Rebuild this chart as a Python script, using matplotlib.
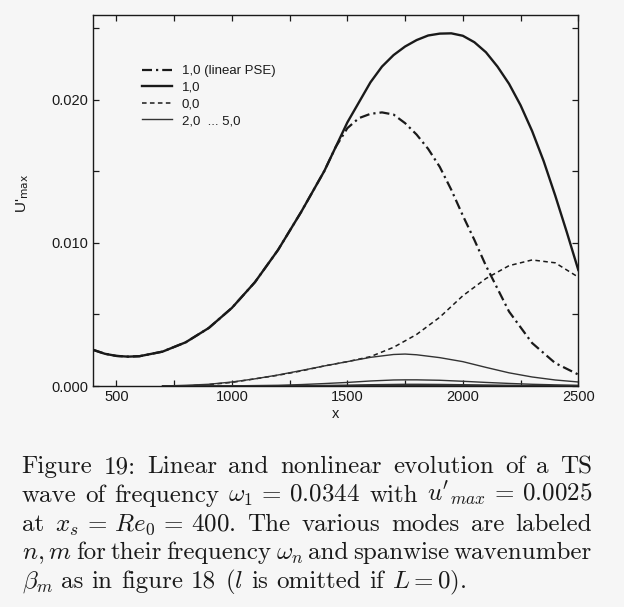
import matplotlib
matplotlib.use("Agg")
import matplotlib.pyplot as plt
from matplotlib.ticker import MultipleLocator, FormatStrFormatter

plt.rcParams["font.family"] = ["Liberation Sans", "DejaVu Sans"]
bg = "#f6f6f6"
ink = "#1a1a1a"
fs = 10.5  # tick / label font size
leg_fs = 9.5
cap_fs = 18  # caption font size

# mode 1,0 (nonlinear PSE)
x_10 = [400, 450, 500, 550, 600, 700, 800, 900, 1000, 1100, 1200, 1300, 1400, 1500,
        1600, 1650, 1700, 1750, 1800, 1850, 1900, 1950, 2000, 2050, 2100, 2150, 2200,
        2250, 2300, 2350, 2400, 2450, 2500]
u_10 = [0.00252, 0.00225, 0.00210, 0.00205, 0.00208, 0.00240, 0.00305, 0.00405, 0.00545,
        0.00725, 0.00950, 0.01215, 0.01500, 0.01840, 0.02120, 0.02230, 0.02310, 0.02370,
        0.02415, 0.02447, 0.02460, 0.02462, 0.02445, 0.02400, 0.02330, 0.02230, 0.02110,
        0.01960, 0.01780, 0.01570, 0.01330, 0.01075, 0.00810]

# mode 1,0 (linear PSE)
x_lin = [400, 450, 500, 550, 600, 700, 800, 900, 1000, 1100, 1200, 1300, 1400, 1450, 1500,
         1550, 1600, 1650, 1700, 1750, 1800, 1850, 1900, 1950, 2000, 2050, 2100, 2200, 2300,
         2400, 2500]
u_lin = [0.00252, 0.00225, 0.00210, 0.00205, 0.00208, 0.00240, 0.00305, 0.00405, 0.00545,
         0.00725, 0.00950, 0.01215, 0.01500, 0.01670, 0.01800, 0.01870, 0.01900, 0.01910,
         0.01895, 0.01835, 0.01755, 0.01655, 0.01530, 0.01370, 0.01190, 0.01020, 0.00840,
         0.00520, 0.00300, 0.00160, 0.00080]

# mode 0,0
x_00 = [800, 900, 1000, 1100, 1200, 1300, 1400, 1500, 1600, 1700, 1800, 1900, 2000, 2100,
        2200, 2300, 2400, 2500]
u_00 = [0.0, 0.0001, 0.00025, 0.0005, 0.00075, 0.00105, 0.0014, 0.0017, 0.00205, 0.0027,
        0.0036, 0.0048, 0.0063, 0.0075, 0.0084, 0.0088, 0.0086, 0.0076]

# modes 2,0 ... 5,0
x_hi = [700, 800, 900, 1000, 1100, 1200, 1300, 1400, 1500, 1600, 1700, 1750, 1800, 1900,
        2000, 2100, 2200, 2300, 2400, 2500]
u_20 = [0.0, 0.00005, 0.00012, 0.00028, 0.0005, 0.00077, 0.00108, 0.0014, 0.0017, 0.002,
        0.0022, 0.00223, 0.00218, 0.00198, 0.0017, 0.0013, 0.00092, 0.00063, 0.00042, 0.00028]
u_30 = [0.0, 0.0, 0.0, 0.00001, 0.00003, 0.00005, 0.0001, 0.00017, 0.00025, 0.00035, 0.00042,
        0.00043, 0.00043, 0.0004, 0.00033, 0.00025, 0.00018, 0.00012, 0.00008, 0.00005]
u_40 = [0.0, 0.0, 0.0, 0.0, 0.0, 0.00001, 0.00002, 0.00004, 0.00006, 0.00009, 0.00011,
        0.00012, 0.00012, 0.00011, 0.00009, 0.00007, 0.00005, 0.00003, 0.00002, 0.00001]
u_50 = [0.0, 0.0, 0.0, 0.0, 0.0, 0.0, 0.0, 0.00001, 0.00002, 0.00003, 0.00004,
        0.00004, 0.00004, 0.00004, 0.00003, 0.00002, 0.00002, 0.00001, 0.00001, 0.0]

caption_lines = [
    ["Figure", "19:", "Linear", "and", "nonlinear", "evolution", "of", "a", "TS"],
    ["wave", "of", "frequency", r"$\omega_1\,=\,0.0344$", "with", r"$u'_{max}\,=\,0.0025$"],
    ["at", r"$x_s\,=\,Re_0\,=\,400$.", "The", "various", "modes", "are", "labeled"],
    [r"$n, m$", "for", "their", "frequency", r"$\omega_n$", "and", "spanwise", "wavenumber"],
    [r"$\beta_m$", "as", "in", "figure", "18", r"($l$", "is", "omitted", "if", r"$L = 0$)."],
]

W, H = 624, 607
fig = plt.figure(figsize=(W / 100, H / 100), dpi=100, facecolor=bg)
ax = fig.add_axes([93.3 / W, 1 - 386 / H, 485 / W, 371 / H], facecolor=bg)

ax.plot(x_lin, u_lin, color=ink, lw=1.6, linestyle=(0, (4.5, 1.8, 1, 1.8)), label="1,0 (linear PSE)")
ax.plot(x_10, u_10, color=ink, lw=1.7, label="1,0")
ax.plot(x_00, u_00, color=ink, lw=1.1, linestyle=(0, (3, 2.2)), label="0,0")
ax.plot(x_hi, u_20, color="#333333", lw=1.0, label="2,0  ... 5,0")
for u in (u_30, u_40, u_50):
    ax.plot(x_hi, u, color="#333333", lw=1.0)

ax.set_xlim(400, 2500)
ax.set_ylim(0, 0.0259)
ax.xaxis.set_major_locator(MultipleLocator(500))
ax.xaxis.set_minor_locator(MultipleLocator(250))
ax.yaxis.set_major_locator(MultipleLocator(0.01))
ax.yaxis.set_minor_locator(MultipleLocator(0.005))
ax.yaxis.set_major_formatter(FormatStrFormatter("%.3f"))
ax.tick_params(which="both", direction="in", top=True, right=True, length=4,
               width=0.9, color=ink, labelsize=fs, labelcolor=ink)
ax.tick_params(axis="x", pad=3)
for sp in ax.spines.values():
    sp.set_color(ink)
    sp.set_linewidth(1.0)

ax.set_xlabel("x", fontsize=fs, color=ink, labelpad=2)
ax.set_ylabel(r"U'$_{\rm max}$", fontsize=fs + 0.5, color=ink, math_fontfamily="dejavusans")
ax.yaxis.set_label_coords((31 - 93.3) / 485, 0.52)

ax.legend(loc="upper left", bbox_to_anchor=((141.7 - 93.3) / 485, (386 - 65) / 371),
          frameon=False, fontsize=leg_fs, handlelength=2.3, handletextpad=0.75,
          labelspacing=0.33, borderpad=0, borderaxespad=0, labelcolor=ink)

# caption, justified between two edges like the typeset original
renderer = fig.canvas.get_renderer()
x_left, x_right = 21.7, 592.0
baselines = [473.3, 502.0, 530.7, 559.4, 588.0]
space = 0.333 * cap_fs * 100 / 72
for i, (words, yb) in enumerate(zip(caption_lines, baselines)):
    texts = [fig.text(0, 1 - yb / H, w, fontsize=cap_fs, family="cmr10", math_fontfamily="cm",
                      color=ink, va="baseline", ha="left") for w in words]
    widths = [t.get_window_extent(renderer).width for t in texts]
    if i < len(caption_lines) - 1:
        gap = (x_right - x_left - sum(widths)) / (len(words) - 1)
    else:
        gap = space
    x = x_left
    for t, w in zip(texts, widths):
        t.set_x(x / W)
        x += w + gap

fig.savefig("out.png", dpi=100, facecolor=bg)
